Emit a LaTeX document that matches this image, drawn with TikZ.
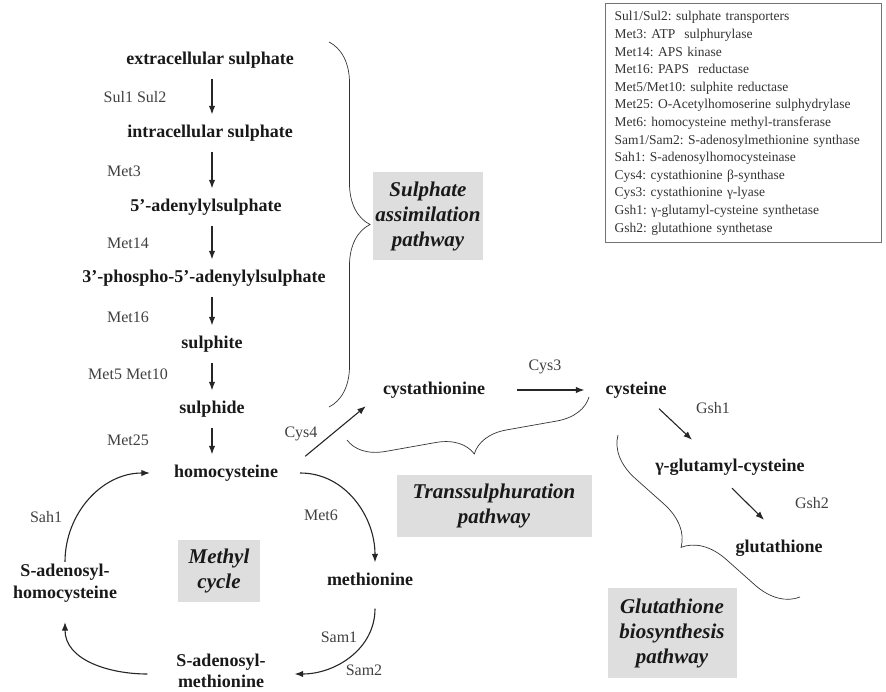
\documentclass[tikz,border=0pt]{standalone}
\usepackage{fontspec}
\setmainfont{Liberation Serif}
\usetikzlibrary{arrows.meta,decorations.pathreplacing}
\frenchspacing
\begin{document}
\begin{tikzpicture}[x=1pt,y=1pt,
metab/.style={font=\fontsize{18}{21.5}\selectfont\bfseries,text=black!90,text height=13pt,text depth=4pt,inner xsep=4pt,inner ysep=10pt},
metabtwo/.style={font=\fontsize{18}{21.5}\selectfont\bfseries,text=black!90,align=center,inner sep=2pt},
enz/.style={font=\fontsize{16}{19}\selectfont,text=black!75},
pwbox/.style={fill=black!13,font=\fontsize{21}{25}\selectfont\bfseries\itshape,text=black!90,align=center,inner sep=0pt},
reac/.style={-{Latex[length=8.5pt,width=6.5pt]},line width=1.1pt,black!85},
brc/.style={decorate,decoration={brace,amplitude=#1},line width=0.7pt,black!80},
legend/.style={draw=black!55,line width=1pt,font=\fontsize{13.5}{17.6}\selectfont,text=black!80,align=left,text width=258pt,inner xsep=9pt,inner ysep=8pt}]
\useasboundingbox (0,0) rectangle (886,-692);
\node[metab] (ext) at (210,-60) {extracellular sulphate};
\node[metab] (int) at (210,-133) {intracellular sulphate};
\node[metab] (aps) at (206,-207) {5’-adenylylsulphate};
\node[metab] (paps) at (204,-278) {3’-phospho-5’-adenylylsulphate};
\node[metab] (slt) at (212,-344) {sulphite};
\node[metab] (sld) at (212,-409) {sulphide};
\node[metab] (hcy) at (226,-473) {homocysteine};
\node[metab] (mth) at (370,-581) {methionine};
\node[metabtwo] (sam) at (221,-671) {S-adenosyl-\\methionine};
\node[metabtwo] (sah) at (65,-583) {S-adenosyl-\\homocysteine};
\node[metab] (cysta) at (434,-390) {cystathionine};
\node[metab] (cyst) at (636,-390) {cysteine};
\node[metab] (glut) at (730,-467) {γ-glutamyl-cysteine};
\node[metab] (gsh) at (779,-548) {glutathione};
\coordinate (col) at (212,0);
\foreach \a/\b in {ext/int,int/aps,aps/paps,paps/slt,slt/sld,sld/hcy}
\draw[reac] (\a.south -| col) -- (\b.north -| col);
\node[enz] (sul) at (135,-97) {Sul1 Sul2};
\node[enz] (m3) at (124,-171) {Met3};
\node[enz] (m14) at (128,-243) {Met14};
\node[enz] (m16) at (128,-317) {Met16};
\node[enz] (m5) at (128,-374) {Met5 Met10};
\node[enz] (m25) at (128,-440) {Met25};
\node[enz] (c4) at (301,-434) {Cys4};
\node[enz] (c3) at (545,-367) {Cys3};
\node[enz] (g1) at (713,-408) {Gsh1};
\node[enz] (g2) at (812,-503) {Gsh2};
\node[enz] (m6) at (321,-515) {Met6};
\node[enz] (s1) at (339,-637) {Sam1};
\node[enz] (s2) at (364,-670) {Sam2};
\node[enz] (sh1) at (46,-517) {Sah1};
\draw[reac] ([xshift=18pt]hcy.east) to[out=0,in=90] ([xshift=5pt]mth.north);
\draw[reac] ([shift={(5pt,-9pt)}]mth.south) to[out=-90,in=0] ([shift={(27pt,-3pt)}]sam.east);
\draw[reac] ([shift={(-27pt,-3pt)}]sam.west) to[out=180,in=-90] ([yshift=-18pt]sah.south);
\draw[reac] (sah.north) to[out=90,in=180] ([xshift=-20pt]hcy.west);
\draw[reac] ([shift={(23pt,-2pt)}]hcy.north east) -- ([shift={(-13pt,2.5pt)}]cysta.south west);
\draw[reac] ([xshift=28pt]cysta.east) -- ([xshift=-17pt]cyst.west);
\draw[reac] ([xshift=23pt]cyst.south) -- ([shift={(-38pt,8.5pt)}]glut.north);
\draw[reac] ([shift={(2pt,-2.5pt)}]glut.south) -- ([shift={(-15pt,9.5pt)}]gsh.north);
\draw[brc=41pt] (329,-42) -- (329,-407);
\draw[brc=36pt] (589,-397) -- (347,-440);
\draw[brc=42pt] (800,-597) -- (618,-435);
\node[pwbox,minimum width=110pt,minimum height=88pt] (sap) at (428,-216) {Sulphate\\assimilation\\pathway};
\node[pwbox,minimum width=82pt,minimum height=62pt] (mcy) at (219,-571) {Methyl\\cycle};
\node[pwbox,minimum width=195pt,minimum height=62pt] (tsp) at (494,-506) {Transsulphuration\\pathway};
\node[pwbox,minimum width=129pt,minimum height=90pt] (gbp) at (672,-633) {Glutathione\\biosynthesis\\pathway};
\node[legend,anchor=north west] (key) at (605,-3) {Sul1/Sul2: sulphate transporters\\
Met3: ATP\ \ sulphurylase\\
Met14: APS kinase\\
Met16: PAPS\ \ reductase\\
Met5/Met10: sulphite reductase\\
Met25: O-Acetylhomoserine sulphydrylase\\
Met6: homocysteine methyl-transferase\\
Sam1/Sam2: S-adenosylmethionine synthase\\
Sah1: S-adenosylhomocysteinase\\
Cys4: cystathionine β-synthase\\
Cys3: cystathionine γ-lyase\\
Gsh1: γ-glutamyl-cysteine synthetase\\
Gsh2: glutathione synthetase};
\end{tikzpicture}
\end{document}
